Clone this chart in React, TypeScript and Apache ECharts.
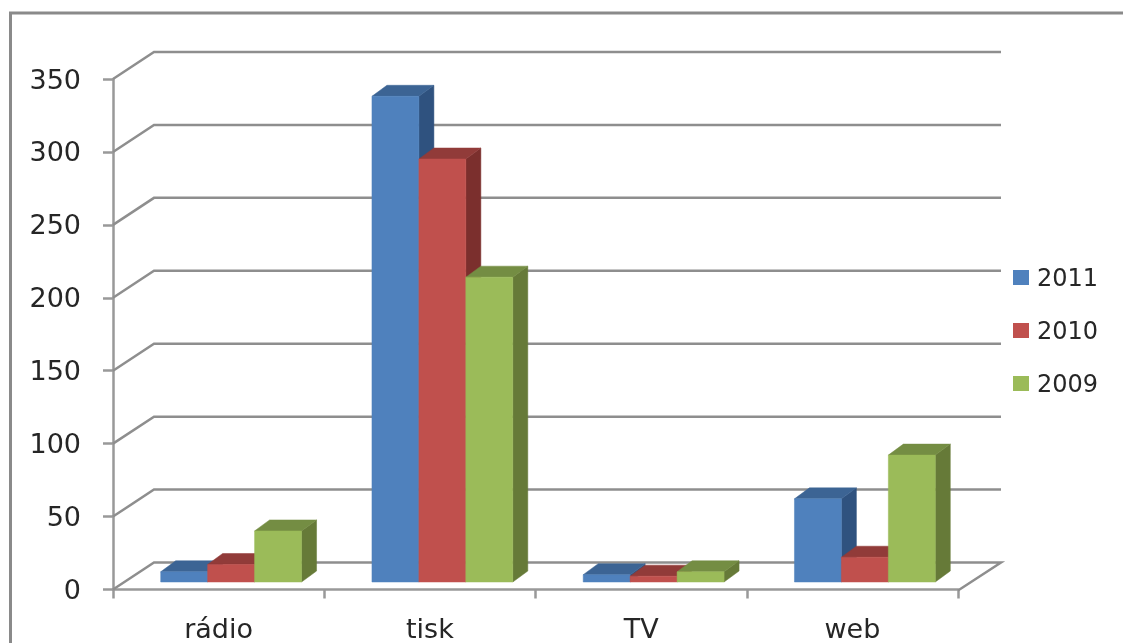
import React, { useEffect, useRef } from "react";
import * as echarts from "echarts";

const categories = ["rádio", "tisk", "TV", "web"];
const years = ["2011", "2010", "2009"];
const values2011 = [7, 333, 5, 57];
const values2010 = [12, 290, 4, 17];
const values2009 = [35, 209, 7, 87];
const seriesValues = [values2011, values2010, values2009];
const wallTicks = [0, 50, 100, 150, 200, 250, 300, 350];

const frontColors = ["#4F81BD", "#C0504D", "#9BBB59"];
const topColors = ["#3C6494", "#913B39", "#748D43"];
const sideColors = ["#2F527F", "#7B2F2D", "#667A38"];

const WALL_DX = 41;
const WALL_DY = -27;
const BAR_SHIFT_X = 12.5;
const BAR_SHIFT_Y = -7.5;
const BAR_DX = 15;
const BAR_DY = -11;
const GAP_RATIO = 1.5;
const GRID_COLOR = "#8E8E8E";
const TEXT_COLOR = "#262626";
const FONT = "'DejaVu Sans', sans-serif";

const wallRender = (params: any, api: any) => {
  const cs = params.coordSys;
  const v = api.value(1);
  const y = api.coord([0, v])[1];
  const x0 = cs.x;
  const x1 = cs.x + cs.width;
  const pts: number[][] = [
    [x0, y],
    [x0 + WALL_DX, y + WALL_DY],
    [x1 + WALL_DX + 2, y + WALL_DY],
  ];
  if (v === 0) pts.push([x1, y + 1]);
  return {
    type: "polyline",
    shape: { points: pts },
    style: { stroke: GRID_COLOR, lineWidth: 2.5, fill: "none" },
    silent: true,
  };
};

const barRender = (k: number) => (_params: any, api: any) => {
  const i = api.value(0);
  const v = api.value(1);
  const band = api.size([1, 0])[0];
  const w = band / (years.length + GAP_RATIO);
  const center = api.coord([i, 0])[0];
  const left = center - (w * years.length) / 2 + k * w + BAR_SHIFT_X;
  const right = left + w;
  const base = api.coord([i, 0])[1] + BAR_SHIFT_Y;
  const top = api.coord([i, v])[1] + BAR_SHIFT_Y;
  const poly = (points: number[][], fill: string) => ({
    type: "polygon",
    shape: { points },
    style: { fill, stroke: fill, lineWidth: 0.5 },
  });
  return {
    type: "group",
    children: [
      poly(
        [
          [right, base],
          [right + BAR_DX, base + BAR_DY],
          [right + BAR_DX, top + BAR_DY],
          [right, top],
        ],
        sideColors[k]
      ),
      poly(
        [
          [left, top],
          [left + BAR_DX, top + BAR_DY],
          [right + BAR_DX, top + BAR_DY],
          [right, top],
        ],
        topColors[k]
      ),
      poly(
        [
          [left, base],
          [left, top],
          [right, top],
          [right, base],
        ],
        frontColors[k]
      ),
    ],
  };
};

export default function App() {
  const ref = useRef<HTMLDivElement>(null);
  useEffect(() => {
    const chart = echarts.init(ref.current!, undefined, { renderer: "svg" });
    const axisLine = { show: true, lineStyle: { color: "#999999", width: 2.5 } };
    chart.setOption({
      animation: false,
      backgroundColor: "#FFFFFF",
      textStyle: { fontFamily: FONT },
      grid: { left: 113, right: 165, top: 79, bottom: 53.5, containLabel: false },
      xAxis: {
        type: "category",
        data: categories,
        boundaryGap: true,
        axisLine,
        axisTick: { show: true, alignWithLabel: false, length: 9, lineStyle: { color: "#999999", width: 2.5 } },
        axisLabel: { color: TEXT_COLOR, fontSize: 27, fontFamily: FONT, margin: 25 },
      },
      yAxis: {
        type: "value",
        min: 0,
        max: 350,
        interval: 50,
        splitLine: { show: false },
        axisLine,
        axisTick: { show: true, length: 10, lineStyle: { color: "#999999", width: 2.5 } },
        axisLabel: { color: TEXT_COLOR, fontSize: 27, fontFamily: FONT, margin: 32, padding: [8, 0, 0, 0] },
      },
      legend: {
        orient: "vertical",
        left: 1013,
        top: 265.5,
        data: years,
        icon: "rect",
        itemWidth: 16,
        itemHeight: 15,
        itemGap: 29,
        padding: 0,
        textStyle: { color: TEXT_COLOR, fontSize: 24, fontFamily: FONT, padding: [0, 0, 0, 3] },
      },
      graphic: [
        {
          type: "polyline",
          silent: true,
          shape: { points: [[10.5, 643], [10.5, 13], [1123, 13]] },
          style: { stroke: "#8A8A8A", lineWidth: 3, fill: "none" },
        },
      ],
      series: [
        {
          type: "custom",
          name: "wall",
          renderItem: wallRender,
          data: wallTicks.map((v) => [0, v]),
          encode: { x: 0, y: 1 },
          z: 1,
          silent: true,
        },
        ...years.map((y, k) => ({
          type: "custom",
          name: y,
          renderItem: barRender(k),
          data: seriesValues[k].map((v, i) => [i, v]),
          encode: { x: 0, y: 1 },
          itemStyle: { color: frontColors[k] },
          z: 3 + k,
        })),
      ],
    });
    return () => chart.dispose();
  }, []);
  return (
    <div
      ref={ref}
      style={{ position: "fixed", left: 0, top: 0, width: 1123, height: 643, filter: "blur(0.5px)" }}
    />
  );
}
